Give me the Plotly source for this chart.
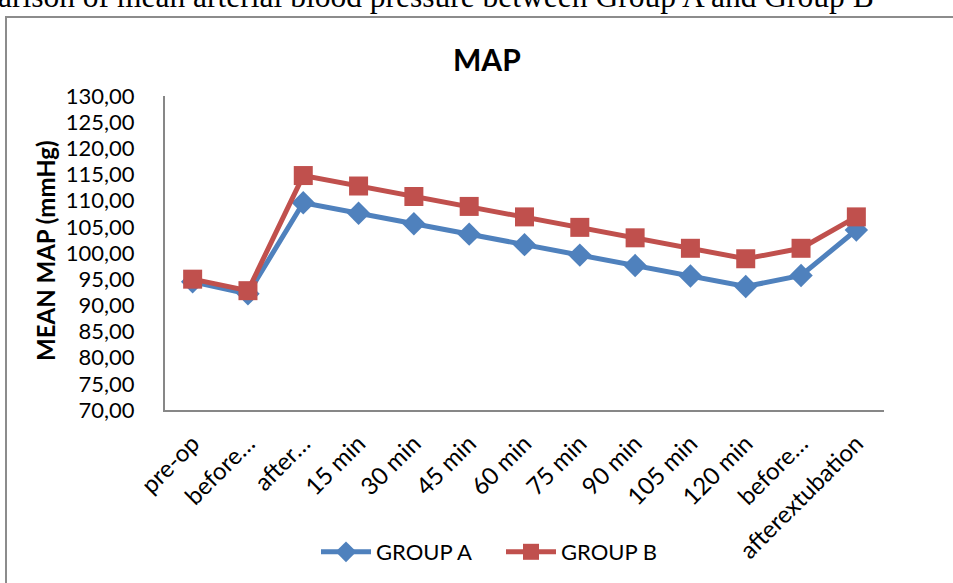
import plotly.graph_objects as go

categories = ["pre-op", "before…", "after…", "15 min", "30 min", "45 min", "60 min",
              "75 min", "90 min", "105 min", "120 min", "before…", "afterextubation"]
group_a = [94.5, 92.2, 109.6, 107.6, 105.6, 103.6, 101.6, 99.6, 97.6, 95.6, 93.6, 95.7, 104.4]
group_b = [95.0, 92.8, 114.8, 112.8, 110.8, 108.9, 106.9, 104.9, 102.9, 100.9, 98.9, 100.9, 106.9]
y_ticks = [70, 75, 80, 85, 90, 95, 100, 105, 110, 115, 120, 125, 130]

W, H = 953, 583
L, R, T, B = 165, 69, 96, 173
pw, ph = W - L - R, H - T - B

def px(x):
    return (x - L) / pw

def py(y):
    return (H - B - y) / ph

x_idx = list(range(len(categories)))

fig = go.Figure()
fig.add_trace(go.Scatter(
    x=x_idx, y=group_a, name="GROUP A", mode="lines+markers",
    line=dict(color="#4F81BD", width=5),
    marker=dict(symbol="diamond", size=18, color="#4F81BD"),
))
fig.add_trace(go.Scatter(
    x=x_idx, y=group_b, name="GROUP B", mode="lines+markers",
    line=dict(color="#C0504D", width=5),
    marker=dict(symbol="square", size=19, color="#C0504D"),
))

font_family = "Lato, Open Sans, sans-serif"

fig.update_layout(
    width=W, height=H,
    margin=dict(l=L, r=R, t=T, b=B, autoexpand=False),
    paper_bgcolor="white", plot_bgcolor="white",
    separators=", ",
    showlegend=True,
    legend=dict(orientation="h", x=px(316), xanchor="left", y=py(552), yanchor="middle",
                font=dict(family=font_family, size=22, color="black"),
                itemwidth=50, entrywidth=120, entrywidthmode="pixels",
                bgcolor="rgba(0,0,0,0)"),
    font=dict(family=font_family, color="black"),
)

fig.update_xaxes(
    range=[-0.5, len(categories) - 0.5],
    tickmode="array", tickvals=x_idx, ticktext=categories,
    tickangle=-45, tickfont=dict(family=font_family, size=24, color="black"),
    showgrid=False, zeroline=False, showline=True, linecolor="#878787", linewidth=2,
    ticks="", ticklabelstandoff=8,
)
fig.update_yaxes(
    range=[70, 130], tickmode="array", tickvals=y_ticks, tickformat=".2f",
    tickfont=dict(family=font_family, size=22, color="black"),
    showgrid=False, zeroline=False, showline=True, linecolor="#878787", linewidth=2,
    ticks="", ticklabelstandoff=24,
)

# Chart area border
fig.add_shape(type="rect", xref="paper", yref="paper",
              x0=px(6), x1=px(W + 20), y0=py(17), y1=py(H + 20),
              line=dict(color="#8C8C8C", width=2), fillcolor="rgba(0,0,0,0)", layer="below")

# Chart title
fig.add_annotation(text="<b>MAP</b>", xref="paper", yref="paper", x=px(487), y=py(59),
                   xanchor="center", yanchor="middle", showarrow=False,
                   font=dict(family=font_family, size=30, color="black"))

# Y axis title
fig.add_annotation(text="<b>MEAN MAP (mmHg)</b>", xref="paper", yref="paper", x=px(45), y=py(251),
                   xanchor="center", yanchor="middle", textangle=-90, showarrow=False,
                   font=dict(family=font_family, size=24, color="black"))

# Caption above the chart (cut off at top of the page)
fig.add_annotation(text="Comparison of mean arterial blood pressure between Group A and Group B",
                   xref="paper", yref="paper", x=px(876), y=py(-3),
                   xanchor="right", yanchor="middle", showarrow=False,
                   font=dict(family="Liberation Serif, Times New Roman, serif", size=31.5, color="black"))

fig.write_html("out.html", config={"displayModeBar": False},
               post_script="document.body.style.margin='0';")
